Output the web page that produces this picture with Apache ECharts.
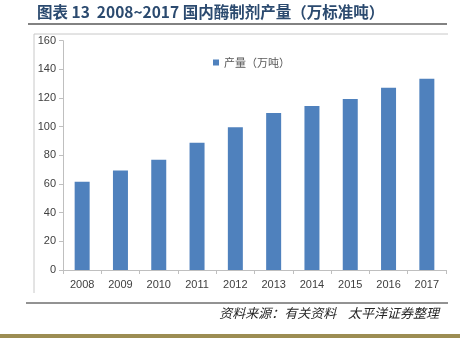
<!DOCTYPE html>
<html><head><meta charset="utf-8">
<script src="https://cdn.jsdelivr.net/npm/echarts@6/dist/echarts.min.js"></script>
<style>html,body{margin:0;padding:0;background:#fff}#c{width:460px;height:342px}</style>
</head><body><div id="c"></div>
<script>
const categories = ['2008','2009','2010','2011','2012','2013','2014','2015','2016','2017'];
const production = [61.5, 69.5, 77, 88.8, 99.6, 109.6, 114.5, 119.4, 127.2, 133.4];
const seriesName = '产量（万吨）';
const titleText = '图表 13  2008~2017 国内酶制剂产量（万标准吨）';
const sourceText = '资料来源：有关资料    太平洋证券整理';

const chart = echarts.init(document.getElementById('c'), null, {renderer:'canvas'});
const cjk = '"Noto Sans CJK SC", "Noto Sans", sans-serif';
chart.setOption({
  animation:false,
  backgroundColor:'#fff',
  textStyle:{fontFamily:cjk},
  legend:{
    data:[seriesName], left:208, top:52, itemWidth:6, itemHeight:6, itemGap:4,
    icon:'rect',
    textStyle:{color:'#595959', fontSize:11, fontFamily:cjk}
  },
  grid:{left:63, right:14, top:40.7, bottom:72},
  xAxis:{
    type:'category', data:categories,
    axisLine:{lineStyle:{color:'#bfbfbf'}},
    axisTick:{show:true, length:4, lineStyle:{color:'#bfbfbf'}},
    axisLabel:{color:'#404040', fontSize:11, margin:9, fontFamily:'"Liberation Sans", Arial, sans-serif'}
  },
  yAxis:{
    type:'value', min:0, max:160, interval:20,
    axisLine:{show:true, lineStyle:{color:'#bfbfbf'}},
    axisTick:{show:true, length:4, lineStyle:{color:'#bfbfbf'}},
    splitLine:{show:false},
    axisLabel:{color:'#404040', fontSize:11, margin:7, fontFamily:'"Liberation Sans", Arial, sans-serif'}
  },
  series:[{
    name:seriesName, type:'bar', data:production, barWidth:15,
    itemStyle:{color:'#4f81bd'}
  }],
  graphic:[
    {type:'text', left:37, top:4, style:{text:titleText, fill:'#2b4a6f', font:'bold 15.5px "Noto Sans CJK SC", sans-serif'}},
    {type:'line', shape:{x1:28, y1:24, x2:447, y2:24}, style:{stroke:'#595959', lineWidth:1.5}},
    {type:'line', shape:{x1:34, y1:34, x2:448, y2:34}, style:{stroke:'#c8c8c8', lineWidth:1}},
    {type:'line', shape:{x1:34, y1:34, x2:34, y2:293}, style:{stroke:'#c8c8c8', lineWidth:1}},
    {type:'line', shape:{x1:26, y1:303, x2:448, y2:303}, style:{stroke:'#262626', lineWidth:1}},
    {type:'text', right:21, top:307, style:{text:sourceText, fill:'#262626', font:'italic 13px "Noto Sans CJK SC", sans-serif'}},
    {type:'rect', shape:{x:0, y:334, width:460, height:4}, style:{fill:'#9c8d53'}}
  ]
});
</script></body></html>
